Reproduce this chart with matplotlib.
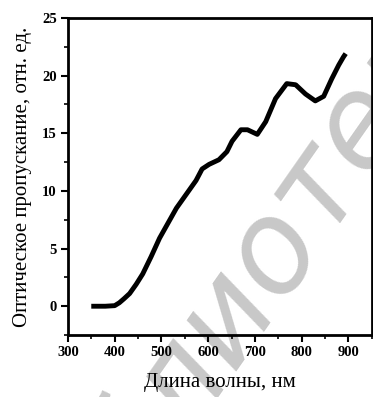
import numpy as np
import matplotlib
matplotlib.use("Agg")
import matplotlib.pyplot as plt
from matplotlib.ticker import MultipleLocator

# Transmission spectrum
wavelength = [350, 380, 400, 410, 420, 432, 446, 460, 478, 496, 514, 532, 553,
              574, 587, 602, 623, 640, 651, 670, 684, 705, 723, 744, 768, 787,
              808, 829, 847, 864, 879, 889, 894]
transmission = [0.0, 0.0, 0.05, 0.3, 0.65, 1.1, 1.9, 2.8, 4.3, 5.9, 7.2, 8.5,
                9.7, 10.9, 11.9, 12.3, 12.7, 13.4, 14.3, 15.3, 15.3, 14.9,
                16.0, 18.0, 19.3, 19.2, 18.4, 17.8, 18.2, 19.7, 20.9, 21.6, 21.9]

x_ticks = [300, 400, 500, 600, 700, 800, 900]
y_ticks = [0, 5, 10, 15, 20, 25]

plt.rcParams.update({"font.family": "Liberation Serif", "font.size": 10})

fig = plt.figure(figsize=(3.73, 3.97), dpi=100, facecolor="white")
ax = fig.add_axes([0.182, 0.156, 0.815, 0.799])
ax.set_facecolor("none")

# faint diagonal watermark behind the axes
fig.text(0.66, 0.27, "библиотека", family="DejaVu Sans", style="italic",
         fontsize=92, color="#c8c8c8", rotation=55, ha="center", va="center",
         zorder=-1)

ax.plot(wavelength, transmission, color="black", lw=3.5,
        solid_capstyle="butt", solid_joinstyle="round")

ax.set_xlim(300, 950)
ax.set_ylim(-2.5, 25)
ax.set_xticks(x_ticks)
ax.set_yticks(y_ticks)
ax.xaxis.set_minor_locator(MultipleLocator(50))
ax.yaxis.set_minor_locator(MultipleLocator(2.5))
ax.tick_params(which="major", direction="out", length=5, width=1.5,
               labelsize=10.5, pad=3)
ax.tick_params(which="minor", direction="out", length=3, width=1.2)
for lab in ax.get_xticklabels() + ax.get_yticklabels():
    lab.set_fontweight("bold")
for sp in ax.spines.values():
    sp.set_linewidth(2.0)

ax.set_xlabel("Длина волны, нм", fontsize=15, labelpad=10)
ax.set_ylabel("Оптическое пропускание, отн. ед.", fontsize=15, labelpad=7)

fig.savefig("out.png", dpi=100)
